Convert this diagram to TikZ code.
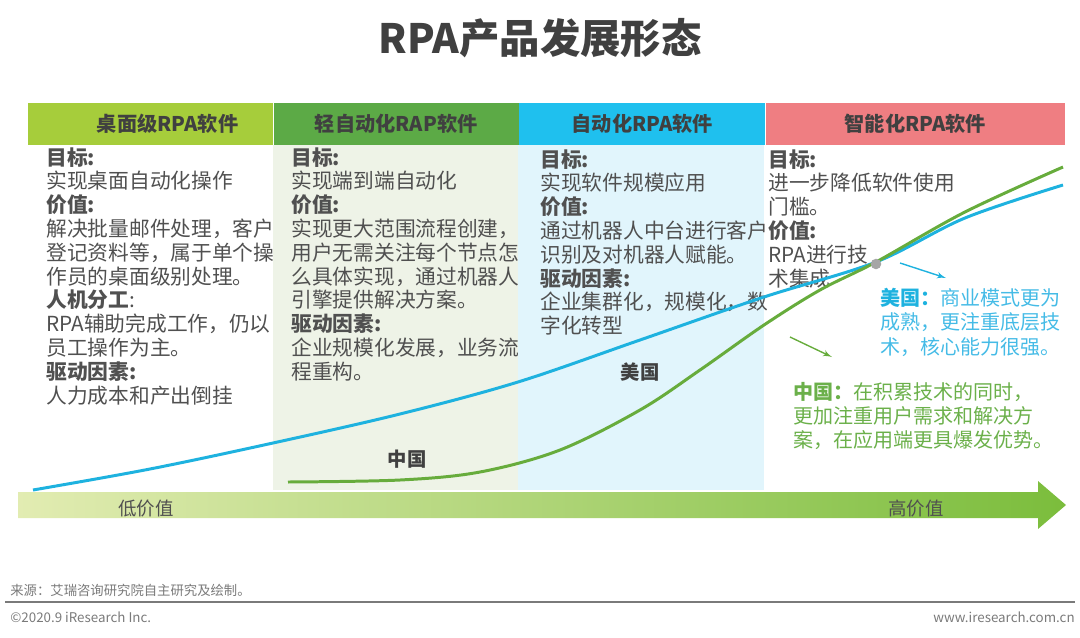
\documentclass[tikz,border=0pt]{standalone}
\usepackage{fontspec}
\setmainfont{Noto Sans CJK SC}
\usetikzlibrary{arrows,positioning}

\definecolor{titlegray}{HTML}{404040}
\definecolor{bodygray}{HTML}{505050}
\definecolor{footgray}{HTML}{7A7A7A}
\definecolor{headA}{HTML}{A6CD3B}
\definecolor{headB}{HTML}{5CAA46}
\definecolor{headC}{HTML}{1FC0EE}
\definecolor{headD}{HTML}{EF7E82}
\definecolor{bgB}{HTML}{EEF3E7}
\definecolor{bgC}{HTML}{E1F5FC}
\definecolor{usblue}{HTML}{1EB2DF}
\definecolor{usnote}{HTML}{45BBE6}
\definecolor{cngreen}{HTML}{67AC3C}
\definecolor{cnnote}{HTML}{6BB04A}
\definecolor{barL}{HTML}{E2ECB2}
\definecolor{barM}{HTML}{EBF2CF}
\definecolor{barR}{HTML}{7BBD3C}

\begin{document}
\begin{tikzpicture}[x=0.02cm, y=-0.02cm]
    \tikzstyle{head} = [rectangle, inner sep=0pt, minimum height=0.84cm, text=titlegray, font=\fontsize{11.5}{13}\selectfont\bfseries]
    \tikzstyle{txt} = [anchor=north west, inner sep=0pt, align=left, text=bodygray, font=\fontsize{11.8}{13.55}\selectfont]
    \tikzstyle{note} = [anchor=north west, inner sep=0pt, align=left, font=\fontsize{11.4}{13.8}\selectfont]
    \tikzstyle{tag} = [inner sep=0pt, text=titlegray, font=\fontsize{11}{13}\selectfont\bfseries]
    \tikzstyle{line} = [draw, -latex', thick]
    \tikzstyle{foot} = [inner sep=0pt, text=footgray, font=\fontsize{7.6}{9}\selectfont]

    \useasboundingbox (0,0) rectangle (1080,637);

    \node [font=\fontsize{23}{27}\selectfont\bfseries, text=titlegray] (title) at (540,38) {RPA产品发展形态};

    % column backgrounds
    \fill [bgB] (273,145) rectangle (518,490);
    \fill [bgC] (518,145) rectangle (764,490);

    % header bar
    \node [head, fill=headA, minimum width=4.9cm] (h1) at (150.5,124) {\hspace{0.68cm}桌面级RPA软件};
    \node [head, fill=headB, minimum width=4.9cm, right=0pt of h1] (h2) {轻自动化RAP软件};
    \node [head, fill=headC, minimum width=4.92cm, right=0pt of h2] (h3) {自动化RPA软件};
    \node [head, fill=headD, minimum width=5.98cm, right=0pt of h3] (h4) {智能化RPA软件};

    % column texts
    \node [txt] (t1) at (46,147) {\textbf{目标:}\\实现桌面自动化操作\\\textbf{价值:}\\解决批量邮件处理，客户\\登记资料等，属于单个操\\作员的桌面级别处理。\\\textbf{人机分工}:\\RPA辅助完成工作，仍以\\员工操作为主。\\\textbf{驱动因素:}\\人力成本和产出倒挂};
    \node [txt] (t2) at (291,147) {\textbf{目标:}\\实现端到端自动化\\\textbf{价值:}\\实现更大范围流程创建，\\用户无需关注每个节点怎\\么具体实现，通过机器人\\引擎提供解决方案。\\\textbf{驱动因素:}\\企业规模化发展，业务流\\程重构。};
    \node [txt] (t3) at (540,149) {\textbf{目标:}\\实现软件规模应用\\\textbf{价值:}\\通过机器人中台进行客户\\识别及对机器人赋能。\\\textbf{驱动因素:}\\企业集群化，规模化，数\\字化转型};
    \node [txt] (t4) at (768,149) {\textbf{目标:}\\进一步降低软件使用\\门槛。\\\textbf{价值:}\\RPA进行技\\术集成};

    % value arrow
    \shade [left color=barL, middle color=barM, right color=barR] (18,492) -- (1038,492) -- (1038,481) -- (1066,505) -- (1038,529) -- (1038,518) -- (18,518) -- cycle;
    \node [foot, text=bodygray, font=\fontsize{10.5}{12}\selectfont] (low) at (146,509) {低价值};
    \node [foot, text=bodygray, font=\fontsize{10.5}{12}\selectfont] (high) at (916,509) {高价值};

    % curves
    \draw [usblue, line width=1.7pt] plot [smooth, tension=0.55] coordinates {(33,490) (150,469) (273,443) (400,414) (518,382) (640,340) (764,297) (876,262) (965,218) (1063,185)};
    \draw [cngreen, line width=1.7pt] plot [smooth, tension=0.55] coordinates {(288,482) (400,480) (480,472) (560,450) (640,410) (700,370) (764,325) (820,290) (876,262) (965,212) (1063,167)};
    \node [circle, fill=gray!70, inner sep=0pt, minimum size=6pt] (cross) at (876,264) {};

    \node [tag] (us) at (640,372) {美国};
    \node [tag] (cn) at (407,459) {中国};

    % notes
    \node [note, text=usnote] (usnote) at (880,288) {\textbf{\color{usblue}美国：}商业模式更为\\成熟，更注重底层技\\术，核心能力很强。};
    \node [note, text=cnnote] (cnnote) at (793,382) {\textbf{中国：}在积累技术的同时，\\更加注重用户需求和解决方\\案，在应用端更具爆发优势。};

    \coordinate (usA) at (900,263);
    \coordinate (usB) at (946,278);
    \coordinate (cnA) at (790,337);
    \coordinate (cnB) at (832,357);
    \path [line, usblue] (usA) -- (usB);
    \path [line, cngreen] (cnA) -- (cnB);

    % footer
    \node [foot, anchor=west] (src) at (10,590) {来源：艾瑞咨询研究院自主研究及绘制。};
    \draw [footgray, line width=1.2pt] (5,602) -- (1075,602);
    \node [foot, anchor=west] (copy) at (10,617) {©2020.9 iResearch Inc.};
    \node [foot, anchor=east] (web) at (1075,617) {www.iresearch.com.cn};
\end{tikzpicture}
\end{document}
